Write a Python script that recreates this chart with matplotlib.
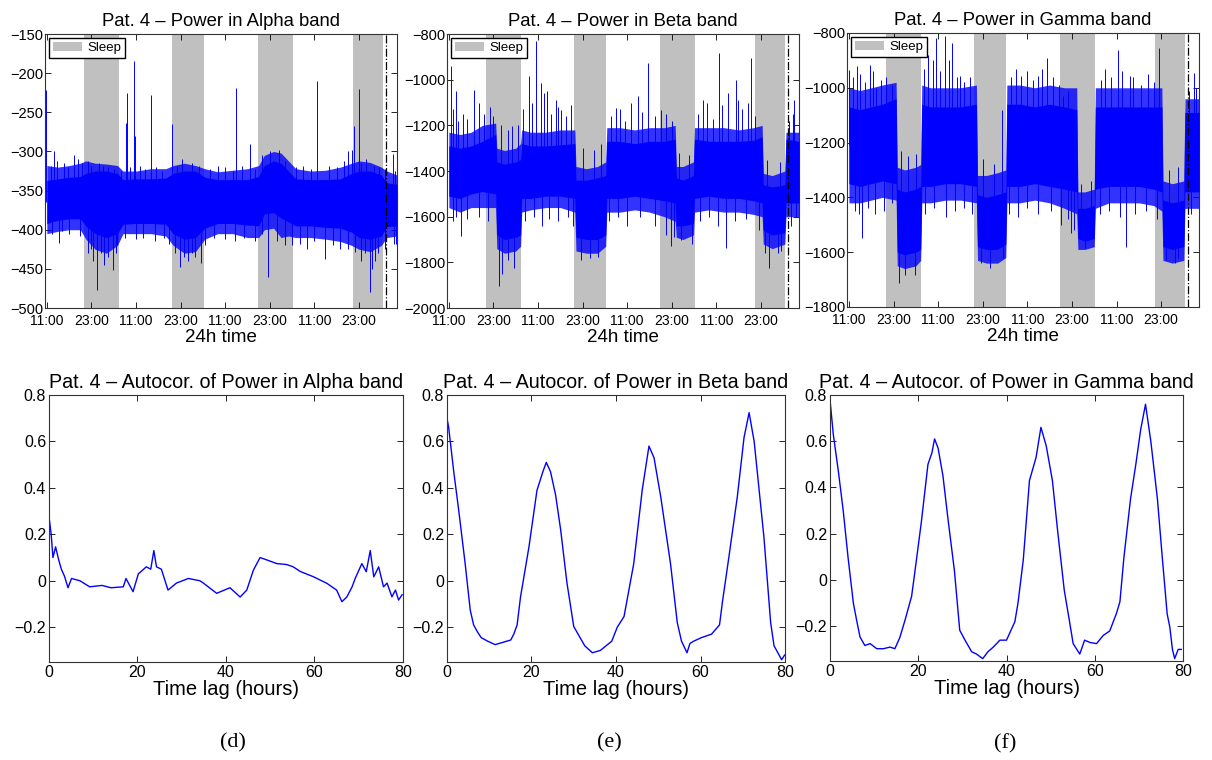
import numpy as np
import matplotlib
matplotlib.use("Agg")
import matplotlib.pyplot as plt
from matplotlib.patches import Patch

plt.rcParams['font.family'] = ['Liberation Sans', 'DejaVu Sans']

# ---- top row: power time series (hours since 11:00 on day 1) ----
sleep_periods = [(10.0, 19.5), (33.6, 42.3), (56.9, 66.2), (82.3, 90.5)]
end_marker = 91.2
time_ticks = [0, 12, 24, 36, 48, 60, 72, 84]
time_labels = ['11:00', '23:00', '11:00', '23:00', '11:00', '23:00', '11:00', '23:00']

# Alpha band: dense core and outer envelope of the trace
alpha_hours = [0, 3, 6, 9, 10.5, 13, 16, 19, 20.5, 24, 28, 32, 34, 37, 40, 42.5, 46, 50,
               54, 57, 58.5, 61, 63, 65, 67, 71, 75, 79, 82, 84, 87, 90, 91.5, 94.2]
alpha_core_hi = [-337, -335, -333, -332, -328, -325, -325, -328, -336, -335, -335, -334, -328,
                 -325, -325, -333, -336, -336, -336, -332, -318, -312, -315, -325, -335, -336,
                 -336, -335, -328, -325, -325, -330, -340, -342]
alpha_core_lo = [-392, -388, -386, -386, -395, -405, -410, -405, -393, -392, -392, -393, -405,
                 -412, -410, -398, -392, -392, -394, -395, -380, -378, -385, -390, -395, -395,
                 -397, -398, -403, -410, -412, -408, -396, -395]
alpha_out_hi = [-318, -320, -318, -315, -312, -315, -316, -318, -325, -325, -322, -322, -318,
                -315, -318, -322, -326, -324, -322, -318, -305, -300, -302, -312, -322, -325,
                -324, -320, -315, -312, -314, -320, -325, -330]
alpha_out_lo = [-405, -402, -400, -400, -412, -425, -430, -420, -405, -405, -405, -408, -420,
                -430, -428, -412, -405, -405, -410, -410, -400, -398, -410, -408, -410, -410,
                -412, -415, -420, -425, -428, -420, -410, -408]
# large excursions
alpha_spike_t = [-0.3, 2.0, 7.3, 21.4, 21.5, 23.5, 23.6, 28.1, 33.6, 51.0, 54.8, 72.6, 82.0,
                 82.7, 83.9, 93.2, 3.3, 12.5, 13.4, 14.5, 15.5, 17.7, 18.5, 35.8, 38.0, 40.0,
                 41.6, 59.6, 70.0, 74.8, 85.5, 86.9, 88.2, 93.5]
alpha_spike_v = [-222, -300, -304, -264, -225, -185, -280, -228, -265, -219, -290, -210, -298,
                 -268, -220, -303, -417, -440, -477, -430, -445, -452, -430, -447, -440, -435,
                 -442, -460, -425, -437, -430, -480, -440, -418]
# smaller excursions that make the ragged edge
alpha_small_t = [1.0, 2.8, 4.5, 5.8, 8.5, 9.5, 11, 12, 14, 15, 16.5, 18, 20, 22.5, 25, 26.5,
                 29.5, 31, 35, 36.5, 39, 41, 44, 46, 48, 50, 52.5, 56, 58, 60, 62.5, 64, 67,
                 69, 71, 76, 78, 80, 81, 84.5, 86, 88, 89.5, 91, 93.8,
                 1.5, 4, 6, 9, 11, 12, 16.5, 19, 21, 24, 26, 29, 31.5, 33, 34.5, 37, 39, 42.5,
                 45, 48, 50.5, 53, 56, 58, 62, 64, 66, 68, 72, 77, 79, 81, 83, 84.5, 87.5, 89,
                 91, 94]
alpha_small_v = [-318, -312, -315, -320, -310, -315, -312, -318, -315, -318, -320, -322, -325,
                 -320, -318, -322, -320, -325, -318, -310, -315, -318, -322, -318, -320, -325,
                 -318, -322, -305, -300, -298, -312, -320, -318, -322, -318, -320, -312, -300,
                 -315, -310, -318, -320, -322, -325,
                 -405, -402, -405, -408, -430, -425, -435, -420, -410, -412, -410, -415, -410,
                 -418, -430, -435, -430, -420, -410, -412, -415, -410, -415, -405, -415, -420,
                 -420, -418, -415, -420, -425, -425, -428, -440, -450, -430, -425, -418]

# Beta band
beta_hours = [0, 3, 6, 9, 12.6, 12.9, 15, 18, 19.3, 19.6, 22, 26, 30, 33.9, 34.2, 37, 40,
              42.2, 42.5, 46, 50, 54, 58, 60.9, 61.2, 63, 65.8, 66.1, 70, 74, 78, 82, 84.3,
              84.6, 87, 90.4, 90.7, 94.2]
beta_core_hi = [-1290, -1300, -1290, -1270, -1240, -1360, -1370, -1360, -1350, -1280, -1290,
                -1290, -1285, -1280, -1440, -1440, -1430, -1420, -1270, -1270, -1280, -1270,
                -1270, -1260, -1430, -1440, -1420, -1260, -1270, -1270, -1270, -1265, -1250,
                -1460, -1470, -1460, -1260, -1270]
beta_core_lo = [-1510, -1520, -1500, -1490, -1500, -1680, -1700, -1690, -1680, -1520, -1520,
                -1510, -1510, -1520, -1690, -1700, -1700, -1680, -1520, -1520, -1510, -1520,
                -1530, -1540, -1640, -1640, -1630, -1520, -1510, -1520, -1520, -1530, -1540,
                -1660, -1680, -1670, -1540, -1540]
beta_out_hi = [-1230, -1240, -1230, -1200, -1190, -1300, -1310, -1300, -1280, -1220, -1230,
               -1230, -1220, -1220, -1380, -1390, -1380, -1360, -1210, -1210, -1220, -1210,
               -1210, -1200, -1380, -1380, -1360, -1210, -1210, -1210, -1220, -1210, -1200,
               -1410, -1420, -1400, -1230, -1230]
beta_out_lo = [-1560, -1580, -1560, -1560, -1560, -1740, -1760, -1750, -1730, -1580, -1570,
               -1560, -1560, -1580, -1750, -1760, -1760, -1730, -1580, -1580, -1570, -1580,
               -1600, -1620, -1690, -1700, -1680, -1580, -1570, -1580, -1580, -1590, -1600,
               -1720, -1740, -1720, -1600, -1600]
beta_spike_t = [0.45, 1.8, 3.9, 6.7, 17.0, 21.6, 23.4, 24.7, 26.5, 28.8, 30.1, 44.9, 50.8,
                53.5, 57.0, 68.3, 72.6, 77.3, 77.8, 81.3, 93.0, 3.3, 13.5, 14.4, 16.0, 17.5,
                35.5, 38.0, 40.2, 59.7, 62.5, 65.5, 74.6, 86.2, 88.5, 93.5]
beta_spike_v = [-942, -1051, -1150, -1044, -1204, -985, -832, -1015, -1051, -1088, -1131,
                -1124, -1073, -927, -1131, -1088, -883, -1000, -1088, -905, -1088, -1686,
                -1905, -1850, -1790, -1825, -1790, -1780, -1775, -1730, -1700, -1720, -1737,
                -1825, -1760, -1600]
beta_small_t = [1, 2.5, 5, 8, 9.5, 11, 12, 14, 16, 18.5, 20, 22.5, 25.5, 27.5, 29.5, 31.5,
                33, 36, 39, 41, 43.5, 46, 47.5, 49, 52, 55.5, 58.5, 60, 62, 64.5, 67, 69.5,
                71, 73.5, 75, 79, 80.5, 82.5, 85.5, 89, 91.5, 92.5,
                1, 2, 5, 8, 10.5, 20.5, 23, 25, 27, 29.5, 32, 33.5, 43, 45.5, 48, 51.5, 55.5,
                58.5, 60.5, 67.5, 70, 72.5, 77, 80, 83.5, 85, 89.5, 92]
beta_small_v = [-1130, -1180, -1170, -1100, -1150, -1120, -1160, -1200, -1220, -1200, -1130,
                -1100, -1060, -1150, -1120, -1160, -1110, -1300, -1310, -1280, -1160, -1130,
                -1180, -1100, -1140, -1160, -1150, -1180, -1320, -1330, -1150, -1100, -1170,
                -1110, -1060, -1130, -1100, -1160, -1350, -1360, -1180, -1150,
                -1620, -1600, -1610, -1600, -1620, -1620, -1600, -1640, -1610, -1620, -1600,
                -1640, -1620, -1600, -1640, -1600, -1640, -1680, -1690, -1620, -1600, -1640,
                -1620, -1610, -1660, -1760, -1750, -1640]

# Gamma band
gamma_hours = [0, 3, 6, 9, 12.7, 13.0, 15, 18, 19.3, 19.6, 22, 26, 30, 34.3, 34.6, 37, 40,
               42.2, 42.5, 46, 50, 54, 58, 61.3, 61.6, 63.5, 66.0, 66.3, 70, 74, 78, 82, 84.2,
               84.5, 87, 90.1, 90.4, 94.2]
gamma_core_hi = [-1070, -1080, -1070, -1060, -1040, -1370, -1380, -1370, -1360, -1060, -1070,
                 -1070, -1070, -1060, -1390, -1400, -1390, -1380, -1060, -1060, -1070, -1060,
                 -1070, -1080, -1440, -1440, -1430, -1070, -1070, -1070, -1070, -1070, -1070,
                 -1410, -1420, -1410, -1090, -1090]
gamma_core_lo = [-1350, -1360, -1350, -1340, -1350, -1600, -1610, -1600, -1590, -1360, -1360,
                 -1350, -1350, -1360, -1580, -1590, -1590, -1570, -1360, -1360, -1350, -1360,
                 -1370, -1380, -1550, -1560, -1550, -1370, -1360, -1360, -1360, -1370, -1380,
                 -1580, -1590, -1580, -1380, -1380]
gamma_out_hi = [-1000, -1010, -1000, -990, -980, -1290, -1300, -1290, -1280, -990, -1000,
                -1000, -1000, -990, -1320, -1320, -1310, -1300, -990, -990, -1000, -990,
                -1000, -1000, -1380, -1380, -1370, -1000, -1000, -1000, -1000, -1000, -1000,
                -1340, -1350, -1340, -1040, -1040]
gamma_out_lo = [-1420, -1420, -1410, -1400, -1410, -1650, -1660, -1650, -1630, -1420, -1420,
                -1410, -1410, -1420, -1630, -1640, -1640, -1620, -1420, -1420, -1410, -1420,
                -1440, -1460, -1590, -1590, -1580, -1440, -1420, -1420, -1420, -1430, -1450,
                -1630, -1640, -1630, -1440, -1440]
gamma_spike_t = [0.0, 2.1, 5.6, 7.4, 21.3, 23.4, 25.8, 27.8, 29.8, 41.3, 46.4, 50.9, 53.4,
                 57.5, 67.9, 72.3, 75.5, 83.5, 92.9, 3.4, 13.4, 15.0, 17.7, 35.6, 37.9, 41.5,
                 59.8, 63.4, 74.6, 85.3, 87.6]
gamma_spike_v = [-934, -922, -916, -1000, -879, -818, -812, -836, -958, -1080, -958, -958,
                 -891, -1030, -970, -861, -958, -855, -946, -1548, -1712, -1682, -1682, -1640,
                 -1657, -1621, -1530, -1585, -1580, -1627, -1640]
gamma_small_t = [1, 3, 4.3, 6.5, 8.5, 10, 11.5, 14, 16, 18, 20.3, 22.5, 24.5, 26.8, 29, 31,
                 32.5, 36, 39, 43.5, 45, 48, 49.5, 52, 55, 56.5, 59, 62.5, 65, 69, 70.5, 73.5,
                 76.5, 78.5, 80.5, 82, 86, 88.5, 91.5, 93.5,
                 1.5, 2.8, 5, 7, 9.5, 11.5, 20.5, 23, 26, 28.5, 31, 33, 43, 45.5, 48, 51, 54.5,
                 57, 59, 60.5, 67.5, 70, 73, 77, 80, 83, 88.5, 92]
gamma_small_v = [-960, -950, -980, -940, -970, -960, -990, -1230, -1250, -1240, -930, -900,
                 -940, -900, -960, -980, -960, -1260, -1280, -960, -930, -940, -970, -930, -960,
                 -990, -1010, -1350, -1340, -930, -960, -940, -960, -990, -950, -980, -1300,
                 -1290, -1010, -1000,
                 -1450, -1460, -1440, -1460, -1450, -1420, -1460, -1440, -1470, -1450, -1440,
                 -1460, -1460, -1470, -1440, -1460, -1450, -1500, -1480, -1520, -1460, -1450,
                 -1470, -1460, -1450, -1480, -1620, -1460]

# ---- bottom row: autocorrelation vs time lag (hours) ----
alpha_lag = [0, 0.05, 0.5, 0.9, 1.5, 2.2, 2.8, 3.5, 4.3, 5.1, 7, 9.2, 12, 14, 16.8, 17.4, 19,
             20.2, 22, 23.0, 23.7, 24.3, 25.4, 26.9, 28.8, 31.5, 34.1, 34.9, 37.9, 40.9, 43.2,
             44.7, 46.2, 47.7, 49.2, 51.5, 53.7, 55.2, 56.8, 59.8, 62.8, 65, 66.2, 67.3, 68.5,
             69.2, 70.7, 71.7, 72.6, 73.4, 74.5, 75.6, 76.4, 77.5, 78.3, 79, 79.8]
alpha_acf = [1.0, 0.27, 0.2, 0.10, 0.146, 0.09, 0.05, 0.02, -0.03, 0.01, 0.0, -0.026, -0.02,
             -0.03, -0.026, 0.01, -0.047, 0.03, 0.06, 0.05, 0.13, 0.06, 0.05, -0.04, -0.01, 0.01,
             0.0, -0.01, -0.054, -0.03, -0.07, -0.04, 0.046, 0.10, 0.09, 0.074, 0.07, 0.06, 0.04,
             0.017, -0.011, -0.04, -0.09, -0.07, -0.026, 0.01, 0.074, 0.039, 0.13, 0.017, 0.06,
             -0.026, -0.01, -0.069, -0.04, -0.083, -0.06]

beta_lag = [0, 0.4, 1.6, 2.8, 4.3, 5.5, 6.3, 7.2, 8.1, 9.6, 11.4, 12.9, 15.1, 15.8, 16.6,
            17.4, 19.4, 21.3, 22.7, 23.5, 24.5, 25.7, 26.9, 28.4, 30, 32.6, 34.4, 36.3, 39,
            40.3, 41.9, 44.2, 46.2, 47.8, 49, 50.6, 52.9, 54.5, 55.5, 56.8, 57.5, 58.4, 60.2,
            62.6, 64.5, 65.2, 66.7, 68.7, 70.3, 71.5, 72.7, 75, 76.6, 77.4, 78.3, 79.2, 79.9]
beta_acf = [0.70, 0.66, 0.47, 0.30, 0.074, -0.126, -0.19, -0.22, -0.245, -0.26, -0.275,
            -0.267, -0.255, -0.23, -0.19, -0.07, 0.146, 0.39, 0.47, 0.51, 0.47, 0.37, 0.22,
            -0.01, -0.197, -0.28, -0.31, -0.30, -0.26, -0.2, -0.154, 0.074, 0.39, 0.58, 0.53,
            0.36, 0.074, -0.18, -0.26, -0.31, -0.27, -0.26, -0.245, -0.23, -0.19, -0.09, 0.10,
            0.36, 0.617, 0.724, 0.60, 0.19, -0.18, -0.28, -0.31, -0.34, -0.32]

gamma_lag = [0, 0.75, 1.9, 3.0, 4.1, 5.3, 6.0, 6.8, 7.9, 9.1, 10.6, 12.1, 13.6, 14.7, 15.8,
             17.0, 18.5, 19.2, 20.7, 22.2, 23.1, 23.7, 24.5, 25.6, 26.7, 28.2, 29.4, 30.6,
             32.1, 33.2, 34.6, 35.8, 37, 38.5, 40, 41.9, 42.6, 43.8, 45.2, 46.7, 47.8, 49,
             50.4, 51.6, 53.1, 54.2, 55.1, 56.6, 57.7, 58.9, 60.4, 61.9, 63.4, 64.9, 65.7,
             66.6, 68.1, 69.3, 70.4, 71.5, 72.7, 74.2, 75.3, 76.4, 77.0, 77.6, 78.1, 78.9, 79.6]
gamma_acf = [0.78, 0.63, 0.47, 0.30, 0.097, -0.10, -0.17, -0.246, -0.283, -0.275, -0.297,
             -0.297, -0.29, -0.297, -0.25, -0.174, -0.07, 0.03, 0.25, 0.50, 0.55, 0.61, 0.57,
             0.45, 0.27, 0.04, -0.217, -0.26, -0.31, -0.32, -0.34, -0.31, -0.29, -0.26, -0.26,
             -0.18, -0.10, 0.087, 0.43, 0.53, 0.66, 0.58, 0.43, 0.21, -0.046, -0.17, -0.275,
             -0.32, -0.26, -0.27, -0.275, -0.24, -0.22, -0.145, -0.094, 0.097, 0.35, 0.50, 0.65,
             0.76, 0.60, 0.35, 0.097, -0.146, -0.203, -0.30, -0.34, -0.30, -0.30]

BLUE = '#0000ff'
GREY = '#c0c0c0'

fig = plt.figure(figsize=(12.12, 7.6), dpi=100)

top_axes = [
    fig.add_axes([0.0371, 0.5947, 0.2904, 0.3605]),
    fig.add_axes([0.3688, 0.5947, 0.2904, 0.3605]),
    fig.add_axes([0.6989, 0.5961, 0.2904, 0.3605]),
]
bot_axes = [
    fig.add_axes([0.0404, 0.1289, 0.2921, 0.3513]),
    fig.add_axes([0.3688, 0.1289, 0.2789, 0.3513]),
    fig.add_axes([0.6848, 0.1303, 0.2913, 0.3500]),
]

top_data = [
    ('Alpha', alpha_hours, alpha_core_hi, alpha_core_lo, alpha_out_hi, alpha_out_lo,
     alpha_spike_t + alpha_small_t, alpha_spike_v + alpha_small_v,
     (-500, -150), np.arange(-500, -149, 50)),
    ('Beta', beta_hours, beta_core_hi, beta_core_lo, beta_out_hi, beta_out_lo,
     beta_spike_t + beta_small_t, beta_spike_v + beta_small_v,
     (-2000, -800), np.arange(-2000, -799, 200)),
    ('Gamma', gamma_hours, gamma_core_hi, gamma_core_lo, gamma_out_hi, gamma_out_lo,
     gamma_spike_t + gamma_small_t, gamma_spike_v + gamma_small_v,
     (-1800, -800), np.arange(-1800, -799, 200)),
]

for ax, (band, hrs, chi, clo, ohi, olo, st, sv, ylim, yt) in zip(top_axes, top_data):
    for s0, s1 in sleep_periods:
        ax.axvspan(s0, s1, color=GREY, lw=0, zorder=0)
    ax.fill_between(hrs, olo, ohi, color=BLUE, alpha=0.8, lw=0, zorder=2)
    ax.fill_between(hrs, clo, chi, color=BLUE, lw=0, zorder=3)
    mid = (np.array(chi) + np.array(clo)) / 2
    base = np.interp(st, hrs, mid)
    ax.vlines(st, base, sv, color=BLUE, lw=0.7, zorder=3)
    ax.axvline(end_marker, color='k', ls='-.', lw=0.9, zorder=4)
    ax.set_xlim(-0.5, 94.2)
    ax.set_ylim(*ylim)
    ax.set_yticks(yt)
    ax.set_yticklabels(['\u2212%d' % abs(v) for v in yt])
    ax.set_xticks(time_ticks)
    ax.set_xticklabels(time_labels)
    ax.tick_params(axis='x', labelsize=10, pad=4)
    ax.tick_params(axis='y', labelsize=10.5, pad=1)
    ax.set_xlabel('24h time', fontsize=13.5, labelpad=1)
    ax.set_title('Pat. 4 \u2013 Power in %s band' % band, fontsize=13.3, pad=6)
    ax.legend(handles=[Patch(facecolor=GREY, edgecolor='none', label='Sleep')],
              loc='upper left', fontsize=9.5, frameon=True, fancybox=False,
              edgecolor='k', framealpha=1, borderaxespad=0.3, handlelength=2.2,
              handletextpad=0.4, borderpad=0.3)

bot_data = [('Alpha', alpha_lag, alpha_acf), ('Beta', beta_lag, beta_acf),
            ('Gamma', gamma_lag, gamma_acf)]
for ax, (band, lag, acf) in zip(bot_axes, bot_data):
    ax.plot(lag, acf, color=BLUE, lw=1.0)
    ax.set_xlim(0, 80)
    ax.set_ylim(-0.35, 0.8)
    ax.set_xticks([0, 20, 40, 60, 80])
    ax.set_yticks([-0.2, 0, 0.2, 0.4, 0.6, 0.8])
    ax.set_yticklabels(['\u22120.2', '0', '0.2', '0.4', '0.6', '0.8'])
    ax.tick_params(labelsize=11.5, pad=2)
    ax.set_xlabel('Time lag (hours)', fontsize=14.5, labelpad=0)
    ax.set_title('Pat. 4 \u2013 Autocor. of Power in %s band' % band, fontsize=14.2, pad=5)

for ax in top_axes + bot_axes:
    ax.tick_params(direction='in', top=True, right=True, length=4, width=0.6)
    for sp in ax.spines.values():
        sp.set_linewidth(0.8)
        sp.set_color('#333333')

for x, lab in [(0.192, '(d)'), (0.503, '(e)'), (0.829, '(f)')]:
    fig.text(x, 0.022, lab, ha='center', va='center', fontsize=16,
             family=['Liberation Serif', 'DejaVu Serif'])

fig.savefig('out.png', dpi=100)
